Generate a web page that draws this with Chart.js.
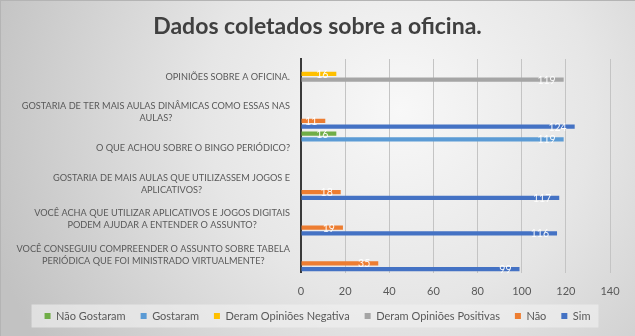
<!DOCTYPE html>
<html lang="pt">
<head>
<meta charset="utf-8">
<title>Dados coletados sobre a oficina.</title>
<script src="https://cdn.jsdelivr.net/npm/chart.js@4.4.1/dist/chart.umd.min.js"></script>
<style>
  html, body { margin: 0; padding: 0; background: #d4d4d4; }
  #wrap { width: 635px; height: 336px; position: relative; }
</style>
</head>
<body>
<div id="wrap"><canvas id="oficinaChart" width="635" height="336"></canvas></div>
<script>
// categories, top to bottom
const categories = [
  'OPINIÕES SOBRE A OFICINA.',
  ['GOSTARIA DE TER MAIS AULAS DINÂMICAS COMO ESSAS NAS', 'AULAS?'],
  'O QUE ACHOU SOBRE O BINGO PERIÓDICO?',
  ['GOSTARIA DE MAIS AULAS QUE UTILIZASSEM JOGOS E', 'APLICATIVOS?'],
  ['VOCÊ ACHA QUE UTILIZAR APLICATIVOS E JOGOS DIGITAIS', 'PODEM AJUDAR A ENTENDER O ASSUNTO?'],
  ['VOCÊ CONSEGUIU COMPREENDER O ASSUNTO SOBRE TABELA', 'PERIÓDICA QUE FOI MINISTRADO VIRTUALMENTE?']
];

// series values (null = no bar in that category)
const naoGostaram        = [null, null, 16,   null, null, null];
const gostaram           = [null, null, 119,  null, null, null];
const opinioesNegativa   = [16,   null, null, null, null, null];
const opinioesPositivas  = [119,  null, null, null, null, null];
const nao                = [null, 11,   null, 18,   19,   35];
const sim                = [null, 124,  null, 117,  116,  99];

// x axis ticks
const xTicks = [0, 20, 40, 60, 80, 100, 120, 140];

const FONT = "Lato, 'Open Sans', sans-serif";
const TEXT = '#595959';

// Background gradient + light box behind the legend
const backdropPlugin = {
  id: 'backdrop',
  beforeDraw: function(chart) {
    const ctx = chart.ctx;
    const w = chart.width, h = chart.height;
    ctx.save();
    const g = ctx.createRadialGradient(400, 110, 0, 400, 110, 430);
    g.addColorStop(0, '#f8f8f8');
    g.addColorStop(0.45, '#e6e6e6');
    g.addColorStop(1, '#c2c2c2');
    ctx.fillStyle = g;
    ctx.fillRect(0, 0, w, h);

    // thin frame on the top / left edge
    ctx.fillStyle = '#b4b4b4';
    ctx.fillRect(0, 0, w, 1);
    ctx.fillRect(0, 0, 1, h);

    const legend = chart.legend;
    if (legend && legend.legendHitBoxes && legend.legendHitBoxes.length) {
      const boxes = legend.legendHitBoxes;
      const first = boxes[0], last = boxes[boxes.length - 1];
      const cy = first.top + first.height / 2;
      ctx.fillStyle = 'rgba(240, 240, 240, 0.65)';
      ctx.fillRect(first.left - 13, cy - 11.5, (last.left + last.width + 8) - (first.left - 13), 23);
    }
    ctx.restore();
  }
};

// Category labels: block right-aligned to the axis, lines centred in the block
const categoryLabelsPlugin = {
  id: 'categoryLabels',
  afterDraw: function(chart) {
    const ctx = chart.ctx;
    const scale = chart.scales.y;
    const right = scale.right - 11;
    const lineH = 12;
    ctx.save();
    ctx.font = '9.2px ' + FONT;
    ctx.fillStyle = TEXT;
    ctx.textAlign = 'center';
    ctx.textBaseline = 'middle';
    chart.data.labels.forEach(function(label, i) {
      const lines = Array.isArray(label) ? label : [label];
      const widths = lines.map(function(t) { return ctx.measureText(t).width; });
      const blockW = Math.max.apply(null, widths);
      const cx = right - blockW / 2;
      const cy = scale.getPixelForValue(i);
      lines.forEach(function(t, k) {
        ctx.fillText(t, cx, cy + (k - (lines.length - 1) / 2) * lineH);
      });
    });
    ctx.restore();
  }
};

// White value labels at the inner end of each bar
const valueLabelsPlugin = {
  id: 'valueLabels',
  afterDatasetsDraw: function(chart) {
    const ctx = chart.ctx;
    ctx.save();
    ctx.font = '10.5px ' + FONT;
    ctx.fillStyle = 'rgba(255, 255, 255, 0.95)';
    ctx.textAlign = 'right';
    ctx.textBaseline = 'middle';
    chart.data.datasets.forEach(function(ds, i) {
      const meta = chart.getDatasetMeta(i);
      meta.data.forEach(function(bar, j) {
        const v = ds.data[j];
        if (v === null || v === undefined) return;
        ctx.fillText(String(v), bar.x - 8, bar.y + 0.5);
      });
    });
    ctx.restore();
  }
};

function series(label, data, color) {
  return {
    label: label,
    data: data,
    backgroundColor: color,
    borderColor: color,
    borderWidth: 0,
    categoryPercentage: 0.965,
    barPercentage: 0.74
  };
}

const ctx = document.getElementById('oficinaChart').getContext('2d');

new Chart(ctx, {
  type: 'bar',
  data: {
    labels: categories,
    datasets: [
      series('Não Gostaram', naoGostaram, '#70AD47'),
      series('Gostaram', gostaram, '#5B9BD5'),
      series('Deram Opiniões Negativa', opinioesNegativa, '#FFC000'),
      series('Deram Opiniões Positivas', opinioesPositivas, '#A5A5A5'),
      series('Não', nao, '#ED7D31'),
      series('Sim', sim, '#4472C4')
    ]
  },
  plugins: [backdropPlugin, valueLabelsPlugin, categoryLabelsPlugin],
  options: {
    indexAxis: 'y',
    responsive: false,
    animation: false,
    layout: {
      padding: { left: 0, right: 0, top: 0, bottom: 4.5 }
    },
    plugins: {
      title: {
        display: true,
        text: 'Dados coletados sobre a oficina.',
        color: '#404040',
        font: { family: FONT, size: 23, weight: 'bold', lineHeight: 1.2 },
        padding: { top: 13, bottom: 18.4 }
      },
      legend: {
        position: 'bottom',
        labels: {
          color: TEXT,
          font: { family: FONT, size: 11 },
          boxWidth: 6,
          boxHeight: 6,
          padding: 15
        }
      },
      tooltip: { enabled: false }
    },
    scales: {
      x: {
        min: 0,
        max: 140,
        afterBuildTicks: function(scale) {
          scale.ticks = xTicks.map(function(v) { return { value: v }; });
        },
        afterFit: function(scale) {
          scale.height = 23;
        },
        grid: { color: '#c4c4c4', lineWidth: 1, drawTicks: false },
        border: { display: false },
        ticks: {
          color: TEXT,
          font: { family: FONT, size: 11 },
          padding: 12
        }
      },
      y: {
        afterFit: function(scale) {
          scale.width = 301;
        },
        grid: { display: false },
        border: { display: true, color: '#3a3a3a', width: 2 },
        ticks: { display: false }
      },
      // empty strip on the right, keeps the plot clear of the edge
      yRight: {
        type: 'category',
        position: 'right',
        afterFit: function(scale) {
          scale.width = 25;
        },
        grid: { display: false },
        border: { display: false },
        ticks: { display: false }
      }
    }
  }
});
</script>
</body>
</html>
